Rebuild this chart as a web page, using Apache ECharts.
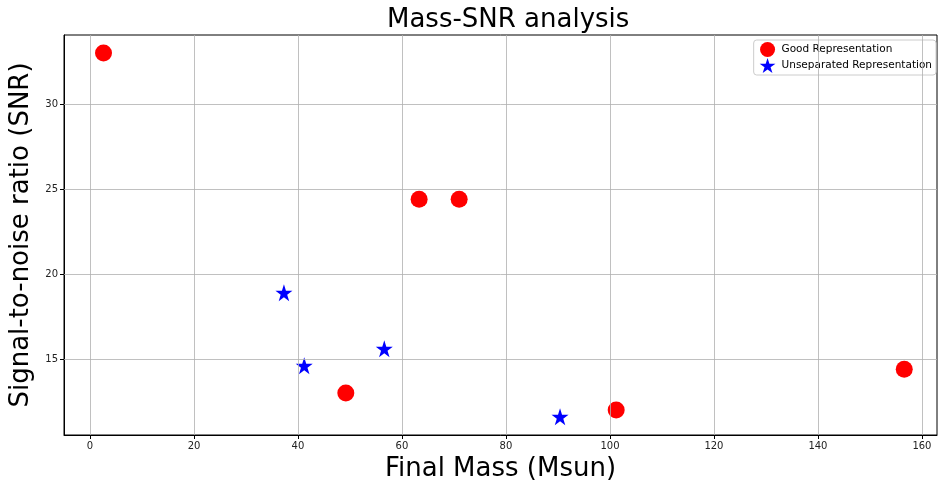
<!DOCTYPE html>
<html><head><meta charset="utf-8">
<script src="https://cdn.jsdelivr.net/npm/echarts@6/dist/echarts.min.js"></script>
<style>html,body{margin:0;padding:0;background:#fff}#c{width:938px;height:488px}</style>
</head><body><div id="c"></div>
<script>
const goodMass = [2.6, 63.3, 71.0, 49.2, 101.2, 156.6];
const goodSNR  = [33.0, 24.4, 24.4, 13.0, 12.0, 14.4];
const unsepMass = [37.3, 41.2, 56.6, 90.4];
const unsepSNR  = [18.9, 14.6, 15.6, 11.6];
const seriesNames = ['Good Representation', 'Unseparated Representation'];
const xTicks = [0, 20, 40, 60, 80, 100, 120, 140, 160];
const yTicks = [15, 20, 25, 30];

const star = 'path://M0,-1L0.2245,-0.309L0.951,-0.309L0.3633,0.118L0.5878,0.809L0,0.382L-0.5878,0.809L-0.3633,0.118L-0.951,-0.309L-0.2245,-0.309Z';
const chart = echarts.init(document.getElementById('c'));
const font = 'DejaVu Sans';
const gridStyle = { color: '#b0b0b0', width: 0.8, type: 'solid' };
chart.setOption({
  animation: false,
  backgroundColor: '#fff',
  title: { text: 'Mass-SNR analysis', left: 382, top: 2,
    textStyle: { fontFamily: font, fontSize: 26, fontWeight: 'normal', color: '#000' } },
  legend: {
    right: 2, top: 40, orient: 'vertical', itemGap: 1, itemWidth: 18, itemHeight: 15,
    padding: [2, 4, 2, 6], borderColor: '#ccc', borderWidth: 1, borderRadius: 3,
    textStyle: { fontFamily: font, fontSize: 10.5, color: '#000' },
    data: [{ name: seriesNames[0], icon: 'circle' }, { name: seriesNames[1], icon: star }]
  },
  grid: { left: 64, right: 1, top: 35, bottom: 53, show: true, borderColor: '#000', borderWidth: 1,
    outerBoundsMode: 'none', containLabel: false },
  xAxis: {
    type: 'value', min: -5.0, max: 162.9,
    name: 'Final Mass (Msun)', nameLocation: 'middle', nameGap: 21,
    nameTextStyle: { fontFamily: font, fontSize: 26, color: '#000' },
    axisLine: { show: true, onZero: false, lineStyle: { color: '#000', width: 1 } },
    axisTick: { show: true, inside: false, length: 4, customValues: xTicks, lineStyle: { color: '#000', width: 1 } },
    axisLabel: { fontFamily: font, fontSize: 10, color: '#222', margin: 6, customValues: xTicks },
    splitLine: { show: false }
  },
  yAxis: {
    type: 'value', min: 10.53, max: 34.06,
    name: 'Signal-to-noise ratio (SNR)', nameLocation: 'middle', nameGap: 30,
    nameTextStyle: { fontFamily: font, fontSize: 26, color: '#000' },
    axisLine: { show: true, onZero: false, lineStyle: { color: '#000', width: 1 } },
    axisTick: { show: true, inside: false, length: 4, customValues: yTicks, lineStyle: { color: '#000', width: 1 } },
    axisLabel: { fontFamily: font, fontSize: 10, color: '#222', margin: 6, customValues: yTicks },
    splitLine: { show: false }
  },
  series: [
    { name: 'grid', type: 'line', data: [], silent: true,
      markLine: { silent: true, symbol: 'none', label: { show: false }, lineStyle: gridStyle,
        data: xTicks.map(v => ({ xAxis: v })).concat(yTicks.map(v => ({ yAxis: v }))) } },
    { name: seriesNames[0], type: 'scatter', symbol: 'circle', symbolSize: 17,
      itemStyle: { color: '#ff0000', opacity: 1 },
      data: goodMass.map((m, i) => [m, goodSNR[i]]) },
    { name: seriesNames[1], type: 'scatter', symbol: star,
      symbolSize: 17, itemStyle: { color: '#0000ff', opacity: 1 },
      data: unsepMass.map((m, i) => [m, unsepSNR[i]]) }
  ]
});
</script></body></html>
